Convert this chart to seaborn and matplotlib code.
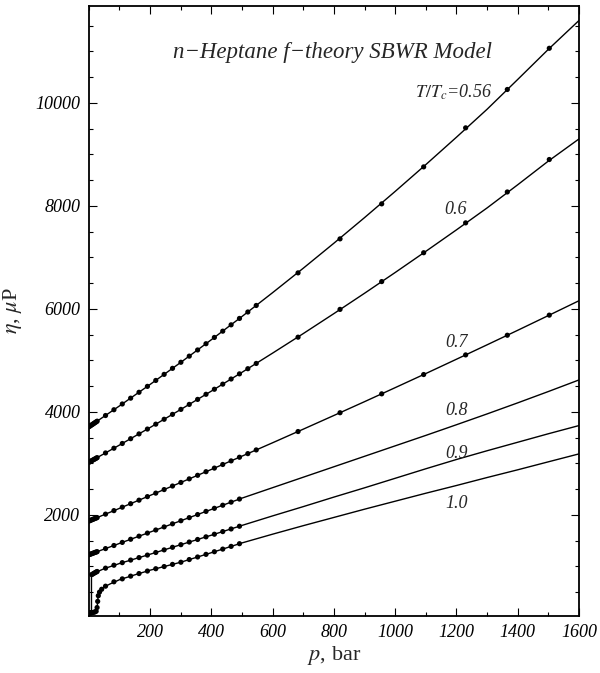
import numpy as np
import pandas as pd
import matplotlib
matplotlib.use('Agg')
import matplotlib.pyplot as plt
from matplotlib.ticker import MultipleLocator, FixedLocator
import seaborn as sns

# pressures (bar) of the measured points
p_cluster = [1.0, 3.4, 6.9, 10.3, 13.8, 17.2, 20.7, 24.1]
p_dense = [27.3, 54.6, 82.0, 109.3, 136.6, 163.9, 191.3, 218.6, 245.9, 273.2,
           300.6, 327.9, 355.2, 382.5, 409.9, 437.2, 464.5, 491.8, 519.1, 546.5]
p_sparse = [683, 820, 956, 1093, 1230, 1366, 1503]

# measured viscosities (microPoise)
eta_056 = [3713, 3723, 3737, 3750, 3764, 3778, 3792, 3806,
           3819, 3929, 4041, 4153, 4266, 4380, 4495, 4610, 4728, 4845,
           4963, 5082, 5202, 5323, 5445, 5567, 5690, 5814, 5939, 6066,
           6699, 7359, 8039, 8757, 9515, 10260, 11060]
eta_06 = [3023, 3031, 3043, 3054, 3066, 3077, 3088, 3100,
          3111, 3202, 3294, 3386, 3479, 3572, 3666, 3761, 3856, 3951,
          4048, 4145, 4242, 4341, 4439, 4538, 4638, 4738, 4838, 4940,
          5450, 5990, 6530, 7090, 7670, 8270, 8900]
eta_07 = [1882, 1888, 1897, 1905, 1914, 1922, 1931, 1939,
          1947, 2014, 2082, 2149, 2217, 2285, 2354, 2422, 2491, 2560,
          2629, 2699, 2768, 2838, 2908, 2978, 3048, 3119, 3189, 3261,
          3618, 3983, 4350, 4725, 5106, 5488, 5878]
eta_08 = [1227, 1232, 1240, 1248, 1255, 1263, 1271, 1278,
          1285, 1345, 1405, 1465, 1526, 1586, 1646, 1706, 1766, 1826,
          1886, 1946, 2006, 2067, 2127, 2187, 2247, 2307]

p_09_low = [0.5, 2.5, 5.0, 7.5, 9.5, 13.0, 17.0, 21.0, 24.5]
eta_09 = [93, 95, 97, 99, 840, 852, 866, 880, 892,
          900, 965, 1022, 1072, 1122, 1170, 1219, 1269, 1320, 1370,
          1421, 1472, 1522, 1573, 1624, 1675, 1726, 1779]

p_10_low = [0.5, 4, 8, 12, 16, 20, 24, 27, 29, 31, 35, 42]
eta_10 = [91, 94, 98, 103, 108, 115, 128, 200, 320, 430, 500, 555,
          615, 700, 757, 810, 860, 909, 954, 996, 1038, 1080, 1132,
          1182, 1233, 1284, 1335, 1388, 1440]

# model (SBWR f-theory) curves
p_line = [0, 100, 200, 300, 400, 500, 600, 700, 800, 900, 1000,
          1100, 1200, 1300, 1400, 1500, 1600]
line_056 = [3709, 4115, 4532, 4960, 5401, 5852, 6315, 6789, 7275, 7772, 8281,
            8801, 9333, 9876, 10455, 11040, 11600]
line_06 = [3020, 3355, 3696, 4046, 4403, 4768, 5141, 5520, 5908, 6303, 6706,
           7117, 7534, 7960, 8410, 8870, 9300]
line_07 = [1880, 2126, 2376, 2628, 2882, 3140, 3400, 3664, 3930, 4198, 4470,
           4744, 5022, 5302, 5584, 5870, 6158]
line_08 = [1225, 1445, 1665, 1885, 2105, 2325, 2528, 2731, 2934, 3137, 3340,
           3543, 3750, 3960, 4175, 4395, 4620]
p_line_09 = [0, 8.7, 8.7, 20, 50, 100, 200, 300, 400, 500, 600, 700, 800,
             900, 1000, 1100, 1200, 1300, 1400, 1500, 1600]
line_09 = [92, 100, 835, 875, 955, 1055, 1235, 1420, 1605, 1795, 1980, 2160,
           2345, 2525, 2710, 2895, 3075, 3245, 3410, 3575, 3734]
p_line_10 = [0, 10, 20, 25, 28, 30, 33, 40, 52, 70, 100, 150, 200, 300, 400,
             500, 600, 700, 800, 900, 1000, 1100, 1200, 1300, 1400, 1500, 1600]
line_10 = [91, 100, 115, 140, 250, 390, 470, 540, 605, 660, 740, 835, 925,
           1080, 1265, 1455, 1625, 1790, 1950, 2110, 2265, 2420, 2570, 2725,
           2875, 3030, 3184]

curve_names = ['0.56', '0.6', '0.7', '0.8', '0.9', '1.0']
label_text = [r'$T/T_c$=0.56', '0.6', '0.7', '0.8', '0.9', '1.0']
label_p = [1316, 1197, 1199, 1200, 1200, 1200]
label_eta = [10214, 7922, 5340, 4019, 3198, 2227]

pts_p = [p_cluster + p_dense + p_sparse,
         p_cluster + p_dense + p_sparse,
         p_cluster + p_dense + p_sparse,
         p_cluster + p_dense[:18],
         p_09_low + p_dense[:18],
         p_10_low + p_dense[1:18]]
pts_eta = [eta_056, eta_06, eta_07, eta_08, eta_09, eta_10]
lines_p = [p_line, p_line, p_line, p_line, p_line_09, p_line_10]
lines_eta = [line_056, line_06, line_07, line_08, line_09, line_10]

pts = pd.concat([pd.DataFrame({'p': p, 'eta': e, 'curve': c})
                 for p, e, c in zip(pts_p, pts_eta, curve_names)])
lines = pd.concat([pd.DataFrame({'p': p, 'eta': e, 'curve': c})
                   for p, e, c in zip(lines_p, lines_eta, curve_names)])

sns.set_theme(style='ticks')
plt.rcParams['font.family'] = ['Liberation Serif', 'DejaVu Serif']
plt.rcParams['mathtext.fontset'] = 'stix'

fig = plt.figure(figsize=(6, 6.73), dpi=100)
ax = fig.add_axes([0.148, 0.085, 0.817, 0.906])

sns.lineplot(data=lines, x='p', y='eta', units='curve', estimator=None,
             sort=False, color='black', lw=1.0, ax=ax)
sns.scatterplot(data=pts, x='p', y='eta', color='black', s=14,
                edgecolor='none', ax=ax, zorder=3)

ax.set_xlim(0, 1600)
ax.set_ylim(40, 11880)
ax.xaxis.set_major_locator(FixedLocator([200, 400, 600, 800, 1000, 1200, 1400, 1600]))
ax.xaxis.set_minor_locator(MultipleLocator(100))
ax.yaxis.set_major_locator(FixedLocator([2000, 4000, 6000, 8000, 10000]))
ax.yaxis.set_minor_locator(MultipleLocator(500))
ax.tick_params(which='both', direction='in', top=True, right=True,
               width=0.8, colors='black')
ax.tick_params(which='major', length=6, labelsize=13, pad=6)
ax.tick_params(which='minor', length=3)
for lab in ax.get_xticklabels() + ax.get_yticklabels():
    lab.set_fontstyle('italic')
for s in ax.spines.values():
    s.set_linewidth(1.3)
    s.set_color('black')

ax.set_xlabel(r'$p$, bar', fontsize=16, labelpad=2)
ax.set_ylabel(r'$\eta$, $\mu$P', fontsize=16, labelpad=8)

ax.text(795, 10971, 'n\u2212Heptane f\u2212theory SBWR Model', fontsize=16.5,
        style='italic', ha='center', va='center')
for t, x, y in zip(label_text, label_p, label_eta):
    if t.startswith('$'):
        ax.text(x, y, t, fontsize=13, style='italic', ha='right', va='center')
    else:
        ax.text(x, y, t, fontsize=13, style='italic', ha='center', va='center')

fig.savefig('out.png', dpi=100)
